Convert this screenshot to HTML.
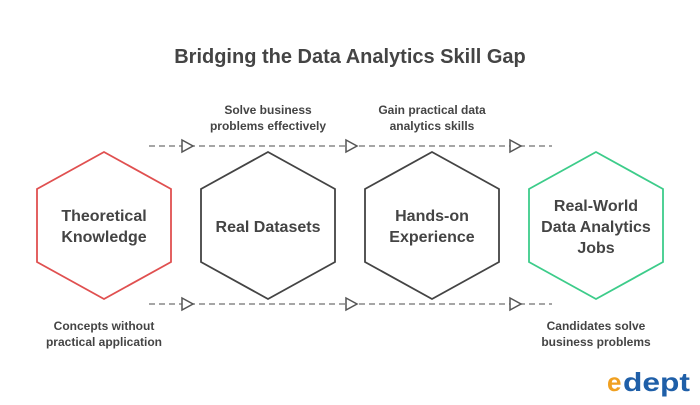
<!DOCTYPE html>
<html><head><style>
body{margin:0;background:#fff;}
svg text{font-family:"Liberation Sans",sans-serif;}
</style></head><body>
<svg width="700" height="400" viewBox="0 0 700 400" xmlns="http://www.w3.org/2000/svg">
<rect width="700" height="400" fill="#fff"/>
<text x="350" y="63" text-anchor="middle" font-size="20" font-weight="bold" fill="#444">Bridging the Data Analytics Skill Gap</text>
<g stroke="#888" stroke-width="1.5" stroke-dasharray="6,4" fill="none">
<line x1="149" y1="146" x2="552" y2="146"/>
<line x1="149" y1="304" x2="552" y2="304"/>
</g>
<g fill="#fff" stroke="#555" stroke-width="1.5">
<polygon points="182,140 193,146 182,152"/>
<polygon points="346,140 357,146 346,152"/>
<polygon points="510,140 521,146 510,152"/>
<polygon points="182,298 193,304 182,310"/>
<polygon points="346,298 357,304 346,310"/>
<polygon points="510,298 521,304 510,310"/>
</g>
<g fill="#fff" stroke-width="1.8">
<polygon stroke="#e05050" points="104,152 171,189 171,262 104,299 37,262 37,189"/>
<polygon stroke="#444" points="268,152 335,189 335,262 268,299 201,262 201,189"/>
<polygon stroke="#444" points="432,152 499,189 499,262 432,299 365,262 365,189"/>
<polygon stroke="#3dcc8a" points="596,152 663,189 663,262 596,299 529,262 529,189"/>
</g>
<g font-size="16" font-weight="bold" fill="#444" text-anchor="middle">
<text x="104" y="221">Theoretical</text><text x="104" y="242">Knowledge</text>
<text x="268" y="232">Real Datasets</text>
<text x="432" y="221">Hands-on</text><text x="432" y="242">Experience</text>
<text x="596" y="211">Real-World</text><text x="596" y="232">Data Analytics</text><text x="596" y="253">Jobs</text>
</g>
<g font-size="12" font-weight="bold" fill="#444" text-anchor="middle">
<text x="268" y="114">Solve business</text><text x="268" y="130">problems effectively</text>
<text x="432" y="114">Gain practical data</text><text x="432" y="130">analytics skills</text>
<text x="104" y="330">Concepts without</text><text x="104" y="346">practical application</text>
<text x="596" y="330">Candidates solve</text><text x="596" y="346">business problems</text>
</g>
<text x="607" y="391" font-size="26" font-weight="bold" fill="#f0a020">e</text>
<text x="623" y="391" font-size="26" font-weight="bold" fill="#1f5fa8" textLength="67" lengthAdjust="spacingAndGlyphs">dept</text>
</svg>
</body></html>
